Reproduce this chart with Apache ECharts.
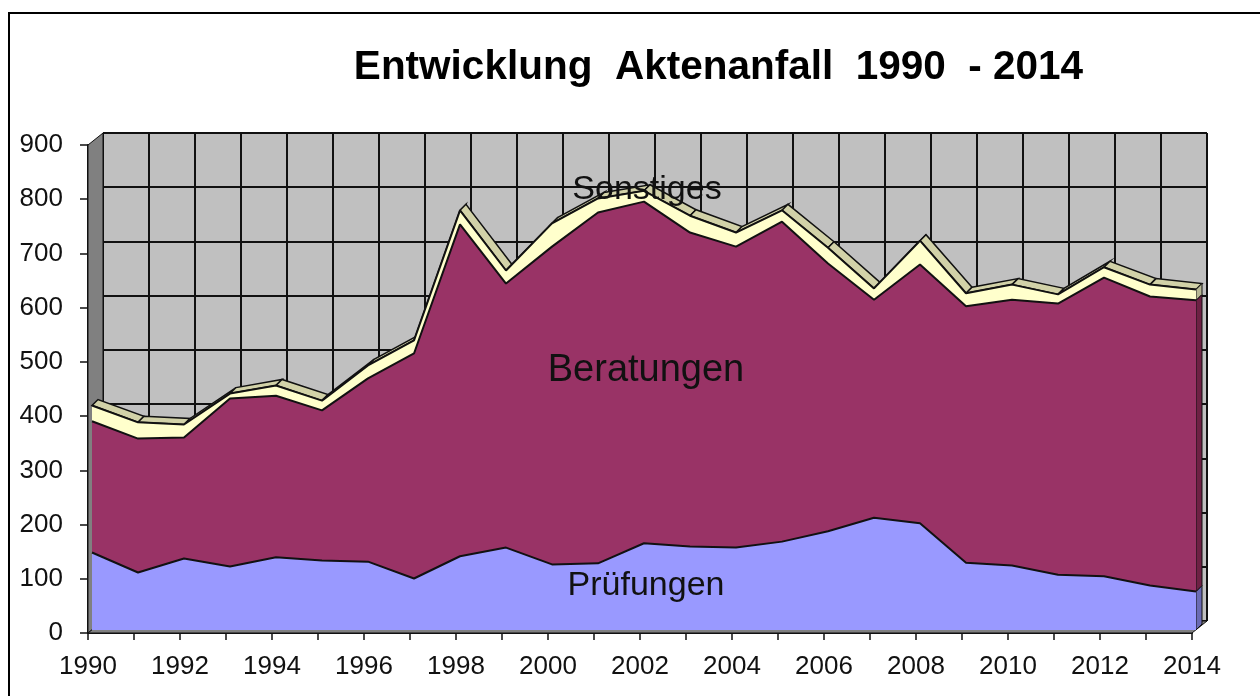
<!DOCTYPE html>
<html>
<head>
<meta charset="utf-8">
<script src="https://cdn.jsdelivr.net/npm/echarts@6/dist/echarts.min.js"></script>
<style>
html, body { margin: 0; padding: 0; background: #fff; }
#chart { width: 1260px; height: 696px; }
</style>
</head>
<body>
<div id="chart"></div>
<script>
const years = ['1990','1991','1992','1993','1994','1995','1996','1997','1998','1999','2000','2001','2002','2003','2004','2005','2006','2007','2008','2009','2010','2011','2012','2013','2014']
const pruefungen = [143,106,132,117,134,128,126,95,136,152,121,123,160,154,152,163,182,207,197,124,119,102,99,82,71]
const beratungen = [242,247,223,310,298,277,338,415,612,487,586,647,630,579,555,590,494,402,477,473,490,500,551,533,537]
const sonstiges = [29,30,24,9,19,18,24,24,26,24,43,26,20,31,26,21,29,21,44,24,28,17,19,22,20]
const yTicks = { min: 0, max: 900, interval: 100 }

const font = '"Liberation Sans", Arial, sans-serif'
const DEPTH = 6
const chartH = 488
const last = years.length - 1

const totals = years.map((_, i) => pruefungen[i] + beratungen[i] + sonstiges[i])
const stripData = totals.slice(0, -1).map((t, i) => [i, t, totals[i + 1]])
const sideData = [
  [last, 0, pruefungen[last], '#6b6bb3'],
  [last, pruefungen[last], pruefungen[last] + beratungen[last], '#6d2144'],
  [last, pruefungen[last] + beratungen[last], totals[last], '#b8b894'],
]

function gridAxes(gridIndex, showAxis) {
  return {
    x: {
      gridIndex, type: 'category', data: years, boundaryGap: false,
      axisLine: { show: showAxis, onZero: false, lineStyle: { color: '#111', width: 2 } },
      axisTick: { show: showAxis, interval: 0, length: 7, lineStyle: { color: '#111', width: 1.5 } },
      axisLabel: {
        show: showAxis, interval: 1, margin: 21, color: '#111', fontFamily: font, fontSize: 26,
      },
      splitLine: { show: false },
    },
    y: {
      gridIndex, type: 'value', ...yTicks,
      axisLine: { show: showAxis, lineStyle: { color: '#111', width: 2 } },
      axisTick: { show: showAxis, length: 8, lineStyle: { color: '#111', width: 1.5 } },
      axisLabel: { show: showAxis, margin: 25, color: '#111', fontFamily: font, fontSize: 26 },
      splitLine: { show: false },
    },
  }
}

const wall = gridAxes(0, false)
wall.x.splitLine = { show: true, interval: 0, lineStyle: { color: '#111', width: 2 } }
wall.y.splitLine = { show: true, lineStyle: { color: '#111', width: 2 } }
const front = gridAxes(1, true)
const plane = gridAxes(2, false)

function areaSeries(name, data, color) {
  return {
    name, type: 'line', data, stack: 'akten', xAxisIndex: 2, yAxisIndex: 2,
    symbol: 'none', z: 4, silent: true,
    lineStyle: { color: '#111', width: 2 },
    areaStyle: { color, opacity: 1 },
  }
}

const option = {
  animation: false,
  backgroundColor: '#fff',
  title: {
    text: 'Entwicklung  Aktenanfall  1990  - 2014',
    left: 718, top: 42, textAlign: 'center',
    textStyle: { fontFamily: font, fontSize: 40.5, fontWeight: 'bold', color: '#000' },
  },
  grid: [
    { left: 103, top: 133, width: 1104, height: chartH, show: true, backgroundColor: '#c0c0c0', borderWidth: 0 },
    { left: 88, top: 145, width: 1104, height: chartH },
    { left: 92, top: 142, width: 1104, height: chartH },
  ],
  xAxis: [wall.x, front.x, plane.x],
  yAxis: [wall.y, front.y, plane.y],
  graphic: [
    // outer frame, open at the bottom and right as in the source
    { type: 'polyline', z: 1, shape: { points: [[9, 696], [9, 13], [1260, 13]] }, style: { stroke: '#000', lineWidth: 2, fill: null } },
    // left side wall and floor
    { type: 'polygon', z: 1, shape: { points: [[88, 145], [103, 133], [103, 621], [88, 633]] }, style: { fill: '#808080', stroke: '#111', lineWidth: 1 } },
    { type: 'polygon', z: 1, shape: { points: [[88, 633], [103, 621], [1207, 621], [1192, 633]] }, style: { fill: '#808080', stroke: '#111', lineWidth: 1 } },
    { type: 'text', z: 20, style: { text: 'Sonstiges', x: 647, y: 190, align: 'center', verticalAlign: 'middle', font: '34px ' + font, fill: '#111' } },
    { type: 'text', z: 20, style: { text: 'Beratungen', x: 646, y: 371, align: 'center', verticalAlign: 'middle', font: '38px ' + font, fill: '#111' } },
    { type: 'text', z: 20, style: { text: 'Prüfungen', x: 646, y: 586, align: 'center', verticalAlign: 'middle', font: '34px ' + font, fill: '#111' } },
  ],
  series: [
    {
      // top faces of the pseudo 3D block, one per year step
      type: 'custom', xAxisIndex: 2, yAxisIndex: 2, z: 3, silent: true, data: stripData,
      renderItem(params, api) {
        const a = api.coord([api.value(0), api.value(1)])
        const b = api.coord([api.value(0) + 1, api.value(2)])
        return {
          type: 'polygon',
          shape: { points: [a, b, [b[0] + DEPTH, b[1] - DEPTH], [a[0] + DEPTH, a[1] - DEPTH]] },
          style: { fill: '#d2d2a8', stroke: '#111', lineWidth: 1.5 },
        }
      },
    },
    {
      // right side of each layer
      type: 'custom', xAxisIndex: 2, yAxisIndex: 2, z: 3, silent: true, data: sideData,
      renderItem(params, api) {
        const lo = api.coord([last, sideData[params.dataIndex][1]])
        const hi = api.coord([last, sideData[params.dataIndex][2]])
        return {
          type: 'polygon',
          shape: { points: [lo, hi, [hi[0] + DEPTH, hi[1] - DEPTH], [lo[0] + DEPTH, lo[1] - DEPTH]] },
          style: { fill: sideData[params.dataIndex][3], stroke: '#111', lineWidth: 1 },
        }
      },
    },
    areaSeries('Prüfungen', pruefungen, '#9999ff'),
    areaSeries('Beratungen', beratungen, '#993366'),
    areaSeries('Sonstiges', sonstiges, '#ffffcc'),
  ],
}
option.title.left = 713.5

echarts.init(document.getElementById('chart'), null, { renderer: 'canvas' }).setOption(option)
</script>
</body>
</html>
